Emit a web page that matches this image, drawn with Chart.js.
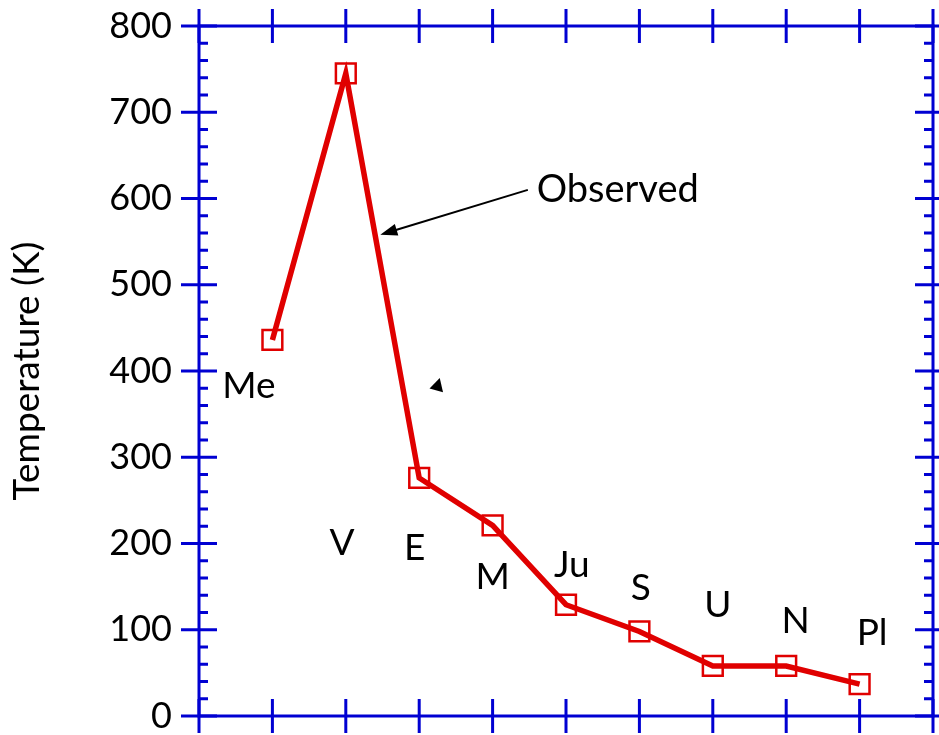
<!DOCTYPE html>
<html>
<head>
<meta charset="utf-8">
<script src="https://cdn.jsdelivr.net/npm/chart.js@4.4.0/dist/chart.umd.min.js"></script>
<style>
  html, body { margin: 0; padding: 0; background: #fff; }
  #wrap { width: 939px; height: 735px; }
</style>
</head>
<body>
<div id="wrap"><canvas id="tempChart" width="939" height="735"></canvas></div>
<script>
// planets along the x axis (position 1..9), observed temperatures in K
const planets = ['Me', 'V', 'E', 'M', 'Ju', 'S', 'U', 'N', 'Pl'];
const planetPos = [1, 2, 3, 4, 5, 6, 7, 8, 9];
const observedTemp = [436, 745, 276, 221, 129, 98, 58, 58, 37];

// where each planet name sits, in data units
const labelX = [0.68, 1.95, 2.94, 4.0, 5.08, 6.02, 7.07, 8.13, 9.17];
const labelY = [383, 200, 195, 161, 175, 148, 129, 110, 96];

const yTicks = [0, 100, 200, 300, 400, 500, 600, 700, 800];
const yMinorStep = 20;
const xTicks = [0, 1, 2, 3, 4, 5, 6, 7, 8, 9, 10];

// "Observed" callout, data units
const calloutText = 'Observed';
const calloutAt = [4.6, 610];
const calloutTail = [4.48, 610];
const calloutHead = [2.47, 558];
const strayHead = [3.28, 392];

const blue = '#0000D2';
const red = '#E00000';
const font = 'Lato';

function arrowHead(ctx, tx, ty, ang, len, half) {
    ctx.beginPath();
    ctx.moveTo(tx, ty);
    ctx.lineTo(tx - len * Math.cos(ang) + half * Math.sin(ang), ty - len * Math.sin(ang) - half * Math.cos(ang));
    ctx.lineTo(tx - len * Math.cos(ang) - half * Math.sin(ang), ty - len * Math.sin(ang) + half * Math.cos(ang));
    ctx.closePath();
    ctx.fill();
}

const framePlugin = {
    id: 'frame',
    beforeDatasetsDraw(chart) {
        const { ctx, chartArea: a, scales: { x, y } } = chart;
        ctx.save();
        ctx.strokeStyle = blue;
        ctx.lineWidth = 3;
        ctx.strokeRect(a.left, a.top, a.right - a.left, a.bottom - a.top);
        ctx.beginPath();
        for (let v = yTicks[0]; v <= yTicks[yTicks.length - 1]; v += yMinorStep) {
            const py = y.getPixelForValue(v);
            if (yTicks.includes(v)) {
                ctx.moveTo(a.left - 18, py); ctx.lineTo(a.left + 18, py);
                ctx.moveTo(a.right - 18, py); ctx.lineTo(a.right + 18, py);
            } else {
                ctx.moveTo(a.left, py); ctx.lineTo(a.left + 9, py);
                ctx.moveTo(a.right - 9, py); ctx.lineTo(a.right, py);
            }
        }
        xTicks.forEach(v => {
            const px = x.getPixelForValue(v);
            ctx.moveTo(px, a.top - 17); ctx.lineTo(px, a.top + 17);
            ctx.moveTo(px, a.bottom - 17); ctx.lineTo(px, a.bottom + 17);
        });
        ctx.stroke();
        ctx.restore();
    },
    afterDatasetsDraw(chart) {
        const { ctx, scales: { x, y } } = chart;
        ctx.save();
        ctx.fillStyle = '#000';
        ctx.textAlign = 'center';
        ctx.textBaseline = 'middle';
        ctx.font = '37px ' + font;
        planets.forEach((p, i) => {
            ctx.fillText(p, x.getPixelForValue(labelX[i]), y.getPixelForValue(labelY[i]));
        });

        // callout
        ctx.textAlign = 'left';
        ctx.font = '38px ' + font;
        ctx.fillText(calloutText, x.getPixelForValue(calloutAt[0]), y.getPixelForValue(calloutAt[1]));
        const x0 = x.getPixelForValue(calloutTail[0]), y0 = y.getPixelForValue(calloutTail[1]);
        const x1 = x.getPixelForValue(calloutHead[0]), y1 = y.getPixelForValue(calloutHead[1]);
        const ang = Math.atan2(y1 - y0, x1 - x0);
        ctx.strokeStyle = '#000';
        ctx.lineWidth = 2;
        ctx.beginPath();
        ctx.moveTo(x0, y0);
        ctx.lineTo(x1 - 12 * Math.cos(ang), y1 - 12 * Math.sin(ang));
        ctx.stroke();
        arrowHead(ctx, x1, y1, ang, 17, 6);

        // leftover arrowhead
        arrowHead(ctx, x.getPixelForValue(strayHead[0]), y.getPixelForValue(strayHead[1]), -1.3, 13, 7);
        ctx.restore();
    }
};

new Chart(document.getElementById('tempChart'), {
    type: 'line',
    data: {
        datasets: [{
            label: 'Observed',
            data: planetPos.map((p, i) => ({ x: p, y: observedTemp[i] })),
            borderColor: red,
            borderWidth: 5.5,
            tension: 0,
            pointStyle: 'rect',
            pointRadius: 14,
            pointBorderWidth: 2.5,
            pointBorderColor: red,
            pointBackgroundColor: 'rgba(0,0,0,0)',
            clip: false
        }]
    },
    options: {
        responsive: false,
        devicePixelRatio: 1,
        animation: false,
        layout: { autoPadding: false, padding: { top: 26, right: 6, left: 0, bottom: 0 } },
        scales: {
            x: {
                type: 'linear',
                min: 0,
                max: 10,
                grid: { display: false, drawTicks: false },
                border: { display: false },
                ticks: { display: false },
                afterFit: (s) => {
                    s.height = 19;
                    s.paddingLeft = 0; s.paddingRight = 0; s.paddingTop = 0; s.paddingBottom = 0;
                }
            },
            y: {
                min: 0,
                max: 800,
                afterBuildTicks: (s) => { s.ticks = yTicks.map(v => ({ value: v })); },
                grid: { display: false, drawTicks: false },
                border: { display: false },
                ticks: { color: '#000', padding: 27, font: { family: font, size: 36 } },
                title: {
                    display: true,
                    text: 'Temperature (K)',
                    color: '#000',
                    font: { family: font, size: 37 },
                    padding: { top: 5, bottom: 0 }
                },
                afterFit: (s) => {
                    s.width = 199;
                    s.paddingLeft = 0; s.paddingRight = 0; s.paddingTop = 0; s.paddingBottom = 0;
                }
            }
        },
        plugins: {
            legend: { display: false },
            tooltip: { enabled: false }
        }
    },
    plugins: [framePlugin]
});
</script>
</body>
</html>
